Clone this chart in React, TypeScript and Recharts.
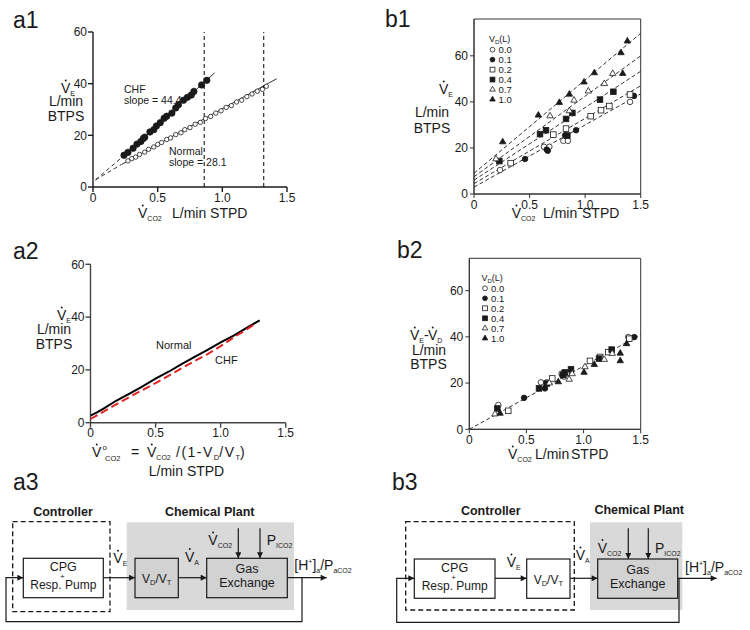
import React from 'react'
import { ScatterChart, Scatter, XAxis, YAxis, ReferenceLine, ReferenceArea } from 'recharts'

const FONT = '"Liberation Sans", Arial, Helvetica, sans-serif'
const INK = '#1a1a1a'
const GRAY = '#d9d9d9'
const BOXGRAY = '#d2d2d2'

// a1: VE vs VCO2, CHF and Normal subjects
const a1Chf = [
  { x: 0.24, y: 12.3 }, { x: 0.27, y: 13.4 }, { x: 0.31, y: 15.0 }, { x: 0.34, y: 16.6 },
  { x: 0.37, y: 17.6 }, { x: 0.39, y: 18.8 }, { x: 0.40, y: 19.3 }, { x: 0.44, y: 21.3 },
  { x: 0.47, y: 22.2 }, { x: 0.49, y: 23.6 }, { x: 0.52, y: 24.9 }, { x: 0.55, y: 26.6 },
  { x: 0.57, y: 27.4 }, { x: 0.61, y: 28.6 }, { x: 0.64, y: 30.6 }, { x: 0.66, y: 31.8 },
  { x: 0.70, y: 33.6 }, { x: 0.73, y: 34.7 }, { x: 0.76, y: 35.6 }, { x: 0.78, y: 37.0 },
  { x: 0.84, y: 39.5 }, { x: 0.88, y: 41.3 },
]
const a1Normal = [
  { x: 0.27, y: 10.1 }, { x: 0.30, y: 11.0 }, { x: 0.33, y: 11.6 }, { x: 0.36, y: 12.6 },
  { x: 0.40, y: 13.5 }, { x: 0.43, y: 14.6 }, { x: 0.47, y: 15.5 }, { x: 0.50, y: 16.5 },
  { x: 0.53, y: 17.2 }, { x: 0.57, y: 18.4 }, { x: 0.60, y: 19.0 }, { x: 0.64, y: 20.3 },
  { x: 0.68, y: 21.0 }, { x: 0.71, y: 22.2 }, { x: 0.75, y: 23.0 }, { x: 0.79, y: 24.3 },
  { x: 0.83, y: 25.0 }, { x: 0.87, y: 26.5 }, { x: 0.91, y: 27.3 }, { x: 0.95, y: 28.6 },
  { x: 0.99, y: 29.5 }, { x: 1.03, y: 30.8 }, { x: 1.07, y: 31.5 }, { x: 1.11, y: 32.9 },
  { x: 1.15, y: 33.6 }, { x: 1.19, y: 35.0 }, { x: 1.23, y: 36.0 }, { x: 1.27, y: 37.1 },
  { x: 1.31, y: 37.8 }, { x: 1.34, y: 39.0 },
]
const a1ChfFitExt = [{ x: 0.02, y: 2.8 }, { x: 0.22, y: 11.3 }]
const a1ChfFit = [{ x: 0.22, y: 11.3 }, { x: 0.94, y: 44.2 }]
const a1NormalFitExt = [{ x: 0.02, y: 2.8 }, { x: 0.22, y: 8.7 }]
const a1NormalFit = [{ x: 0.22, y: 8.7 }, { x: 1.42, y: 41.9 }]
const a1Thresholds = [0.86, 1.32]

// a2: VE vs corrected VCO2
const a2Normal = [
  { x: 0, y: 2.7 }, { x: 0.05, y: 3.9 }, { x: 0.1, y: 5.3 }, { x: 0.2, y: 8.4 },
  { x: 0.3, y: 11.0 }, { x: 0.4, y: 13.8 }, { x: 0.5, y: 16.7 }, { x: 0.6, y: 19.3 },
  { x: 0.7, y: 22.2 }, { x: 0.8, y: 24.9 }, { x: 0.9, y: 27.6 }, { x: 1.0, y: 30.4 },
  { x: 1.1, y: 33.0 }, { x: 1.2, y: 35.9 }, { x: 1.3, y: 38.8 },
]
const a2Chf = [
  { x: 0, y: 1.4 }, { x: 0.1, y: 4.2 }, { x: 0.25, y: 8.4 }, { x: 0.4, y: 12.4 },
  { x: 0.5, y: 15.0 }, { x: 0.65, y: 19.2 }, { x: 0.8, y: 23.4 }, { x: 0.9, y: 26.0 },
  { x: 1.0, y: 29.0 }, { x: 1.1, y: 32.3 }, { x: 1.26, y: 37.2 },
]

// b1 / b2: added dead space VD
const vdLevels = ['0.0', '0.1', '0.2', '0.4', '0.7', '1.0']
const vdMarkers = [
  { kind: 'circle', filled: false }, { kind: 'circle', filled: true },
  { kind: 'square', filled: false }, { kind: 'square', filled: true },
  { kind: 'triangle', filled: false }, { kind: 'triangle', filled: true },
]
const b1V00 = [{ x: 0.234, y: 10.4 }, { x: 0.63, y: 20.5 }, { x: 0.678, y: 20.5 }, { x: 0.804, y: 23.1 }, { x: 0.845, y: 23.1 }, { x: 1.404, y: 40.0 }]
const b1V01 = [{ x: 0.459, y: 15.2 }, { x: 0.654, y: 19.3 }, { x: 0.664, y: 18.8 }, { x: 0.82, y: 25.5 }, { x: 0.918, y: 27.7 }, { x: 1.44, y: 42.6 }]
const b1V02 = [{ x: 0.33, y: 13.4 }, { x: 0.714, y: 25.8 }, { x: 0.828, y: 28.4 }, { x: 1.05, y: 33.8 }, { x: 1.143, y: 36.4 }, { x: 1.218, y: 38.2 }, { x: 1.404, y: 43.2 }]
const b1V04 = [{ x: 0.228, y: 14.3 }, { x: 0.594, y: 26.0 }, { x: 0.648, y: 27.7 }, { x: 0.828, y: 32.6 }, { x: 0.885, y: 35.2 }, { x: 0.84, y: 25.4 }, { x: 1.134, y: 41.0 }, { x: 1.254, y: 44.4 }]
const b1V07 = [{ x: 0.198, y: 15.2 }, { x: 0.684, y: 33.9 }, { x: 0.858, y: 36.1 }, { x: 0.9, y: 40.7 }, { x: 1.029, y: 44.7 }, { x: 1.173, y: 47.9 }, { x: 1.248, y: 52.3 }]
const b1V10 = [{ x: 0.258, y: 22.6 }, { x: 0.579, y: 34.2 }, { x: 0.768, y: 39.7 }, { x: 0.858, y: 43.3 }, { x: 0.99, y: 48.6 }, { x: 1.083, y: 52.6 }, { x: 1.323, y: 61.3 }, { x: 1.38, y: 66.4 }, { x: 1.338, y: 52.3 }]
const b1Points = [b1V00, b1V01, b1V02, b1V04, b1V07, b1V10]
const b1Fits = [
  [{ x: 0, y: 9.0 }, { x: 1.5, y: 69.8 }],
  [{ x: 0, y: 7.5 }, { x: 1.5, y: 60.0 }],
  [{ x: 0, y: 6.0 }, { x: 1.5, y: 53.3 }],
  [{ x: 0, y: 4.5 }, { x: 1.5, y: 47.0 }],
  [{ x: 0, y: 3.0 }, { x: 1.5, y: 43.5 }],
]

const b2V00 = [{ x: 0.254, y: 10.5 }, { x: 0.627, y: 20.3 }, { x: 0.677, y: 20.3 }, { x: 0.808, y: 24.1 }, { x: 0.83, y: 22.8 }, { x: 1.391, y: 39.9 }]
const b2V01 = [{ x: 0.479, y: 13.6 }, { x: 0.662, y: 17.7 }, { x: 0.815, y: 23.4 }, { x: 0.83, y: 24.5 }, { x: 1.444, y: 39.9 }]
const b2V02 = [{ x: 0.341, y: 8.0 }, { x: 0.726, y: 22.0 }, { x: 0.85, y: 24.3 }, { x: 1.056, y: 29.6 }, { x: 1.144, y: 31.3 }, { x: 1.216, y: 33.4 }, { x: 1.40, y: 39.2 }]
const b2V04 = [{ x: 0.245, y: 9.0 }, { x: 0.61, y: 17.7 }, { x: 0.677, y: 19.8 }, { x: 0.82, y: 23.5 }, { x: 0.837, y: 24.6 }, { x: 0.89, y: 26.0 }, { x: 1.135, y: 30.6 }, { x: 1.246, y: 34.5 }]
const b2V07 = [{ x: 0.225, y: 6.6 }, { x: 0.70, y: 20.0 }, { x: 0.874, y: 21.6 }, { x: 0.90, y: 24.0 }, { x: 1.012, y: 27.0 }, { x: 1.181, y: 30.2 }, { x: 1.251, y: 32.8 }]
const b2V10 = [{ x: 0.269, y: 6.9 }, { x: 0.779, y: 20.5 }, { x: 1.004, y: 24.6 }, { x: 1.094, y: 28.0 }, { x: 1.321, y: 32.9 }, { x: 1.321, y: 29.6 }, { x: 1.377, y: 37.0 }]
const b2Points = [b2V00, b2V01, b2V02, b2V04, b2V07, b2V10]
const b2Fit = [{ x: 0, y: 0 }, { x: 1.5, y: 41.0 }]

const xTicks = [0, 0.5, 1, 1.5]
const yTicks = [0, 20, 40, 60]
const fmtX = (v: number) => (v === 0 ? '0' : v.toFixed(1))
const tickStyle = { fontSize: 12, fill: INK, fontFamily: FONT }

const Marker = ({ cx, cy, kind, filled, ms }: any) => {
  if (cx == null || cy == null) return <g />
  const fill = filled ? INK : '#fff'
  if (kind === 'square') {
    return <rect x={cx - ms / 2} y={cy - ms / 2} width={ms} height={ms} fill={fill} stroke={INK} strokeWidth={0.8} />
  }
  if (kind === 'triangle') {
    const s = ms * 1.15
    return (
      <polygon
        points={`${cx},${cy - s * 0.577} ${cx - s / 2},${cy + s * 0.289} ${cx + s / 2},${cy + s * 0.289}`}
        fill={fill} stroke={INK} strokeWidth={0.8}
      />
    )
  }
  return <circle cx={cx} cy={cy} r={ms / 2} fill={fill} stroke={INK} strokeWidth={0.8} />
}

const noShape = () => <g />

const VSym = ({ x, y, sub, size = 14, subSize = 7, subDy = 3 }: any) => (
  <g>
    <text x={x} y={y} fontSize={size} fill={INK}>
      V<tspan fontSize={subSize} dy={subDy}>{sub}</tspan>
    </text>
    <circle cx={x + size * 0.34} cy={y - size * 0.9} r={size * 0.07} fill={INK} />
  </g>
)

const Legend = ({ x, y, step }: any) => (
  <g>
    <text x={x - 3.5} y={y - 7.5} fontSize={9} fill={INK}>
      V<tspan fontSize={6} dy={2}>D</tspan><tspan dy={-2}>(L)</tspan>
    </text>
    {vdLevels.map((lv, i) => (
      <g key={lv}>
        <Marker cx={x} cy={y + i * step} kind={vdMarkers[i].kind} filled={vdMarkers[i].filled} ms={4.8} />
        <text x={x + 6} y={y + i * step + 3.4} fontSize={9.5} fill={INK}>{lv}</text>
      </g>
    ))}
  </g>
)

const Diagram = ({ v }: { v: 'a' | 'b' }) => {
  const a = v === 'a'
  const L = a
    ? { ctrlX: 63, plantX: 209.7, dash: [12.7, 521.7, 97.3, 90], gray: [126.7, 522.3, 167.3, 87.7], cpg: [23.3, 558.3, 80, 39.4], vd: [135, 558.3, 43.3, 39.4], gas: [206.7, 558.3, 80.6, 39.4], ay: 577.7, tap: 302, outEnd: 326.7, fbX: 6, fbY: 621.7, down: [238.3, 260], downTop: 528.3, ve: [113.3, 563.3], va: [185, 561.7], vco2: [208.3, 545], pico2: [266.7, 545], h: [294.3, 570] }
    : { ctrlX: 490.8, plantX: 639.2, dash: [405.7, 521.7, 168.6, 88.3], gray: [590, 522.3, 92.3, 87.7], cpg: [414.3, 559, 80.7, 39.3], vd: [526.7, 559, 43.3, 39.3], gas: [597.7, 559, 80, 39.3], ay: 578.3, tap: 679, outEnd: 716.7, fbX: 396.7, fbY: 622.3, down: [628.3, 648.3], downTop: 528.3, ve: [506.7, 567], va: [575.7, 560], vco2: [597.7, 552.7], pico2: [655, 552.7], h: [685, 571.7] }
  const [cx, cy, cw, ch] = L.cpg
  const [vx, vy, vw, vh] = L.vd
  const [gx, gy, gw, gh] = L.gas
  const ay = L.ay
  return (
    <g>
      <text x={L.ctrlX} y={a ? 516 : 515} textAnchor="middle" fontWeight="bold" fontSize={12.5} fill={INK}>Controller</text>
      <text x={L.plantX} y={a ? 516 : 513.5} textAnchor="middle" fontWeight="bold" fontSize={12.5} fill={INK}>Chemical Plant</text>
      <rect x={L.gray[0]} y={L.gray[1]} width={L.gray[2]} height={L.gray[3]} fill={GRAY} />
      <rect x={L.dash[0]} y={L.dash[1]} width={L.dash[2]} height={L.dash[3]} fill="none" stroke={INK} strokeWidth={1.3} strokeDasharray="5 3" />
      <rect x={cx} y={cy} width={cw} height={ch} fill="#fff" stroke={INK} strokeWidth={1.2} />
      <text x={cx + cw / 2} y={cy + 12.5} textAnchor="middle" fontSize={12.5} fill={INK}>CPG</text>
      <text x={cx + cw / 2 - 1} y={cy + 20.5} textAnchor="middle" fontSize={8} fill={INK}>+</text>
      <text x={cx + cw / 2} y={cy + 30.5} textAnchor="middle" fontSize={12} fill={INK}>Resp. Pump</text>
      <rect x={vx} y={vy} width={vw} height={vh} fill={a ? BOXGRAY : '#fff'} stroke={INK} strokeWidth={1.2} />
      <text x={vx + vw / 2} y={vy + 24.5} textAnchor="middle" fontSize={12} fill={INK}>
        V<tspan fontSize={7.5} dy={2.5}>D</tspan><tspan dy={-2.5}>/V</tspan><tspan fontSize={7.5} dy={2.5}>T</tspan>
      </text>
      <rect x={gx} y={gy} width={gw} height={gh} fill={BOXGRAY} stroke={INK} strokeWidth={1.2} />
      <text x={gx + gw / 2} y={gy + 15} textAnchor="middle" fontSize={12.5} fill={INK}>Gas</text>
      <text x={gx + gw / 2} y={gy + 28.5} textAnchor="middle" fontSize={12.5} fill={INK}>Exchange</text>
      <line x1={cx + cw} y1={ay} x2={vx} y2={ay} stroke={INK} strokeWidth={1.2} markerEnd="url(#arr)" />
      <line x1={vx + vw} y1={ay} x2={gx} y2={ay} stroke={INK} strokeWidth={1.2} markerEnd="url(#arr)" />
      <line x1={gx + gw} y1={ay} x2={L.outEnd} y2={ay} stroke={INK} strokeWidth={1.2} markerEnd="url(#arr)" />
      {L.down.map((dx) => (
        <line key={dx} x1={dx} y1={L.downTop} x2={dx} y2={gy} stroke={INK} strokeWidth={1.2} markerEnd="url(#arr)" />
      ))}
      <polyline
        points={`${L.tap},${ay} ${L.tap},${L.fbY} ${L.fbX},${L.fbY} ${L.fbX},${ay} ${cx},${ay}`}
        fill="none" stroke={INK} strokeWidth={1.2} markerEnd="url(#arr)"
      />
      <VSym x={L.ve[0]} y={L.ve[1]} sub="E" />
      <VSym x={L.va[0]} y={L.va[1]} sub="A" />
      <VSym x={L.vco2[0]} y={L.vco2[1]} sub="CO2" />
      <text x={L.pico2[0]} y={L.pico2[1]} fontSize={14} fill={INK}>
        P<tspan fontSize={7} dy={3}>ICO2</tspan>
      </text>
      <text x={L.h[0]} y={L.h[1]} fontSize={14} fill={INK}>
        [H<tspan fontSize={7} dy={-6}>+</tspan><tspan dy={6}>]</tspan><tspan fontSize={7} dy={3}>a</tspan>
        <tspan dy={-3}>/P</tspan><tspan fontSize={7} dy={3}>aCO2</tspan>
      </text>
    </g>
  )
}

export default function App() {
  return (
    <div style={{ position: 'absolute', left: 0, top: 0, width: 750, height: 630, background: '#fff', fontFamily: FONT }}>
      {/* a1 */}
      <div style={{ position: 'absolute', left: 0, top: 0 }}>
        <ScatterChart width={320} height={230} margin={{ top: 32, right: 33, bottom: 13, left: 53 }}>
          <XAxis type="number" dataKey="x" domain={[0, 1.5]} ticks={xTicks} tickFormatter={fmtX} allowDataOverflow
            height={30} tick={tickStyle} tickSize={5} tickMargin={1} stroke={INK} strokeWidth={1.4} />
          <YAxis type="number" dataKey="y" domain={[0, 60]} ticks={yTicks} allowDataOverflow
            width={40} tick={tickStyle} tickSize={5} tickMargin={1} stroke={INK} strokeWidth={1.4} />
          {a1Thresholds.map((t) => (
            <ReferenceLine key={t} x={t} stroke={INK} strokeWidth={1.1} strokeDasharray="4 3" />
          ))}
          <Scatter data={a1ChfFitExt} line={{ stroke: INK, strokeWidth: 0.9, strokeDasharray: '4 3' }} shape={noShape} isAnimationActive={false} />
          <Scatter data={a1ChfFit} line={{ stroke: INK, strokeWidth: 0.9 }} shape={noShape} isAnimationActive={false} />
          <Scatter data={a1NormalFitExt} line={{ stroke: INK, strokeWidth: 0.9, strokeDasharray: '4 3' }} shape={noShape} isAnimationActive={false} />
          <Scatter data={a1NormalFit} line={{ stroke: INK, strokeWidth: 0.9 }} shape={noShape} isAnimationActive={false} />
          <Scatter data={a1Normal} shape={(p: any) => <Marker cx={p.cx} cy={p.cy} kind="circle" filled={false} ms={4.4} />} isAnimationActive={false} />
          <Scatter data={a1Chf} shape={(p: any) => <Marker cx={p.cx} cy={p.cy} kind="circle" filled ms={6.4} />} isAnimationActive={false} />
        </ScatterChart>
      </div>

      {/* a2 */}
      <div style={{ position: 'absolute', left: 0, top: 235 }}>
        <ScatterChart width={320} height={225} margin={{ top: 29.3, right: 34.3, bottom: 7.3, left: 50.5 }}>
          <XAxis type="number" dataKey="x" domain={[0, 1.5]} ticks={xTicks} tickFormatter={fmtX} allowDataOverflow
            height={30} tick={tickStyle} tickSize={5} tickMargin={1} stroke="#444" strokeWidth={1.4} />
          <YAxis type="number" dataKey="y" domain={[0, 60]} ticks={yTicks} allowDataOverflow
            width={40} tick={tickStyle} tickSize={5} tickMargin={1} stroke="#444" strokeWidth={1.4} />
          <Scatter data={a2Normal} line={{ stroke: '#000', strokeWidth: 2 }} shape={noShape} isAnimationActive={false} />
          <Scatter data={a2Chf} line={{ stroke: '#e02424', strokeWidth: 2, strokeDasharray: '8 4' }} shape={noShape} isAnimationActive={false} />
        </ScatterChart>
      </div>

      {/* b1 */}
      <div style={{ position: 'absolute', left: 380, top: 0 }}>
        <ScatterChart width={370} height={240} margin={{ top: 19, right: 109.3, bottom: 16, left: 54 }}>
          <XAxis type="number" dataKey="x" domain={[0, 1.5]} ticks={xTicks} tickFormatter={fmtX} allowDataOverflow
            height={30} tick={tickStyle} tickSize={4} tickMargin={2} stroke="#333" />
          <YAxis type="number" dataKey="y" domain={[0, 76]} ticks={yTicks} allowDataOverflow
            width={40} tick={tickStyle} tickSize={4} tickMargin={2} stroke="#333" />
          <ReferenceArea x1={0} x2={1.5} y1={0} y2={76} fill="none" stroke="#333" strokeWidth={1} />
          {b1Fits.map((f, i) => (
            <Scatter key={'f' + i} data={f} line={{ stroke: INK, strokeWidth: 0.9, strokeDasharray: '4 2.5' }} shape={noShape} isAnimationActive={false} />
          ))}
          {b1Points.map((pts, i) => (
            <Scatter key={'p' + i} data={pts} isAnimationActive={false}
              shape={(p: any) => <Marker cx={p.cx} cy={p.cy} kind={vdMarkers[i].kind} filled={vdMarkers[i].filled} ms={5.6} />} />
          ))}
        </ScatterChart>
      </div>

      {/* b2 */}
      <div style={{ position: 'absolute', left: 380, top: 235 }}>
        <ScatterChart width={370} height={225} margin={{ top: 23.3, right: 109.3, bottom: 0.7, left: 49.3 }}>
          <XAxis type="number" dataKey="x" domain={[0, 1.5]} ticks={xTicks} tickFormatter={fmtX} allowDataOverflow
            height={30} tick={tickStyle} tickSize={4} tickMargin={2} stroke="#333" />
          <YAxis type="number" dataKey="y" domain={[0, 74]} ticks={yTicks} allowDataOverflow
            width={40} tick={tickStyle} tickSize={4} tickMargin={2} stroke="#333" />
          <ReferenceArea x1={0} x2={1.5} y1={0} y2={74} fill="none" stroke="#333" strokeWidth={1} />
          <Scatter data={b2Fit} line={{ stroke: INK, strokeWidth: 0.9, strokeDasharray: '4 2.5' }} shape={noShape} isAnimationActive={false} />
          {b2Points.map((pts, i) => (
            <Scatter key={'p' + i} data={pts} isAnimationActive={false}
              shape={(p: any) => <Marker cx={p.cx} cy={p.cy} kind={vdMarkers[i].kind} filled={vdMarkers[i].filled} ms={5.6} />} />
          ))}
        </ScatterChart>
      </div>

      {/* labels, legends and block diagrams */}
      <svg width={750} height={630} style={{ position: 'absolute', left: 0, top: 0, pointerEvents: 'none' }} fontFamily={FONT}>
        <defs>
          <marker id="arr" viewBox="0 0 10 10" refX="10" refY="5" markerWidth="7" markerHeight="6"
            markerUnits="userSpaceOnUse" orient="auto">
            <path d="M0,0 L10,5 L0,10 z" fill={INK} />
          </marker>
        </defs>

        <text x={13} y={28} fontSize={23} fill={INK}>a1</text>
        <text x={385} y={27} fontSize={23} fill={INK}>b1</text>
        <text x={13} y={259} fontSize={23} fill={INK}>a2</text>
        <text x={397} y={258} fontSize={23} fill={INK}>b2</text>
        <text x={13} y={490} fontSize={23} fill={INK}>a3</text>
        <text x={392} y={490} fontSize={23} fill={INK}>b3</text>

        {/* a1 text */}
        <VSym x={61} y={93} sub="E" />
        <text x={66} y={106} textAnchor="middle" fontSize={14} fill={INK}>L/min</text>
        <text x={66} y={121} textAnchor="middle" fontSize={14} fill={INK}>BTPS</text>
        <VSym x={138} y={218} sub="CO2" />
        <text x={172} y={218} fontSize={14} fill={INK}>L/min STPD</text>
        <text x={124} y={93.3} fontSize={10.5} fill={INK}>CHF</text>
        <text x={124} y={104} fontSize={10.5} fill={INK}>slope = 44.4</text>
        <text x={169} y={155} fontSize={10.5} fill={INK}>Normal</text>
        <text x={169} y={166} fontSize={10.5} fill={INK}>slope = 28.1</text>

        {/* a2 text */}
        <VSym x={57} y={320} sub="E" />
        <text x={54} y={334} textAnchor="middle" fontSize={14} fill={INK}>L/min</text>
        <text x={54} y={349} textAnchor="middle" fontSize={14} fill={INK}>BTPS</text>
        <text x={156} y={349} fontSize={11} fill={INK}>Normal</text>
        <text x={215} y={364} fontSize={11} fill={INK}>CHF</text>
        <VSym x={92} y={457} sub="" />
        <text x={102.5} y={450} fontSize={8} fill={INK}>o</text>
        <text x={105} y={460.5} fontSize={7.5} fill={INK}>CO2</text>
        <text x={131} y={457} fontSize={14} fill={INK}>=</text>
        <VSym x={147} y={457} sub="CO2" />
        <text x={176} y={457} fontSize={14} fill={INK} letterSpacing={1.5}>
          /(1-V<tspan fontSize={7.5} dy={3} letterSpacing={0}>D</tspan><tspan dy={-3}>/V</tspan>
          <tspan fontSize={7.5} dy={3} letterSpacing={0}>T</tspan><tspan dy={-3}>)</tspan>
        </text>
        <text x={186.5} y={476} textAnchor="middle" fontSize={14} fill={INK}>L/min STPD</text>

        {/* b1 text */}
        <VSym x={439} y={94} sub="E" />
        <text x={432} y={117} textAnchor="middle" fontSize={14} fill={INK}>L/min</text>
        <text x={432} y={133} textAnchor="middle" fontSize={14} fill={INK}>BTPS</text>
        <VSym x={511.7} y={218} sub="CO2" />
        <text x={543} y={218} fontSize={14} fill={INK}>L/min</text>
        <text x={582} y={218} fontSize={14} fill={INK}>STPD</text>
        <Legend x={492.5} y={49.7} step={9.95} />

        {/* b2 text */}
        <VSym x={410} y={340} sub="E" />
        <text x={424} y={340} fontSize={14} fill={INK}>-</text>
        <VSym x={428} y={340} sub="D" />
        <text x={429} y={355} textAnchor="middle" fontSize={14} fill={INK}>L/min</text>
        <text x={428.5} y={369} textAnchor="middle" fontSize={14} fill={INK}>BTPS</text>
        <VSym x={508} y={459} sub="CO2" />
        <text x={535} y={459} fontSize={14} fill={INK}>L/min</text>
        <text x={571} y={459} fontSize={14} fill={INK}>STPD</text>
        <Legend x={485} y={288.3} step={10} />

        <Diagram v="a" />
        <Diagram v="b" />
      </svg>
    </div>
  )
}
